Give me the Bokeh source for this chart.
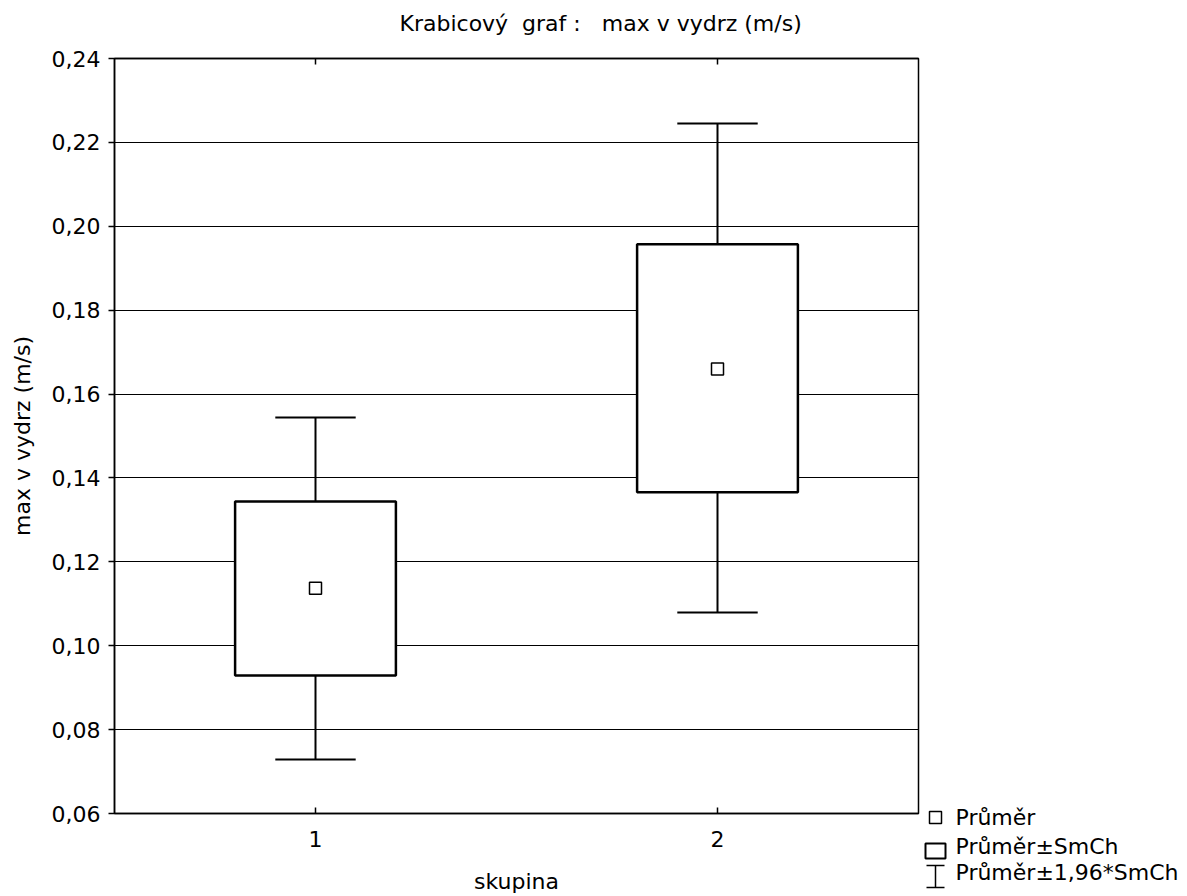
from bokeh.plotting import figure
from bokeh.models import Range1d, FixedTicker, CustomJSTickFormatter, LinearAxis
from bokeh.layouts import row, column
from bokeh.core.properties import value
from bokeh.embed import file_html
from bokeh.resources import INLINE

# ---- data ----
groups = [1, 2]
means = [0.1137, 0.1660]
box_low = [0.0929, 0.1366]
box_high = [0.1344, 0.1957]
whisk_low = [0.0729, 0.1079]
whisk_high = [0.1544, 0.2245]
y_ticks = [0.06, 0.08, 0.10, 0.12, 0.14, 0.16, 0.18, 0.20, 0.22, 0.24]
legend_labels = ["Průměr", "Průměr±SmCh", "Průměr±1,96*SmCh"]
title_text = "Krabicový \u00a0graf : \u00a0\u00a0max v vydrz (m/s)"
x_label = "skupina"
y_label = "max v vydrz (m/s)"

FONT = "DejaVu Sans"
FS = "22px"

W, H = 1187, 896
TITLE_H = 40

# ---- title strip (pixel coordinates) ----
tf = figure(width=W, height=TITLE_H, x_range=Range1d(0, W), y_range=Range1d(TITLE_H, 0),
            output_backend="svg", toolbar_location=None, min_border=0,
            x_axis_type=None, y_axis_type=None, outline_line_color=None)
tf.frame_align = False
tf.grid.visible = False
tf.text(x=[399], y=[23], text=[title_text], text_font=value(FONT), text_font_size=FS,
        text_baseline="middle", text_align="left", text_color="black")

# ---- main plot ----
p = figure(frame_width=804, frame_height=755, x_range=Range1d(0.5, 2.5), y_range=Range1d(0.06, 0.24),
           output_backend="svg", toolbar_location=None,
           min_border_left=114, min_border_right=5, min_border_top=58 - TITLE_H, min_border_bottom=83,
           x_axis_label=x_label, y_axis_label=y_label)
p.frame_align = False
p.outline_line_color = "black"
p.outline_line_width = 1.5
p.outline_line_alpha = 1

for ax in [p.xaxis[0], p.yaxis[0]]:
    ax.axis_line_color = "black"
    ax.axis_line_width = 1.5
    ax.major_tick_line_color = "black"
    ax.major_tick_line_width = 1.5
    ax.minor_tick_line_color = None
    ax.major_label_text_font = FONT
    ax.major_label_text_font_size = FS
    ax.major_label_text_color = "black"
    ax.axis_label_text_font = FONT
    ax.axis_label_text_font_size = FS
    ax.axis_label_text_font_style = "normal"
    ax.axis_label_text_color = "black"

p.xaxis.ticker = FixedTicker(ticks=groups)
p.xaxis.major_tick_in = 6
p.xaxis.major_tick_out = 0
p.xaxis.major_label_standoff = 17
p.xaxis.axis_label_standoff = 19

p.yaxis.ticker = FixedTicker(ticks=y_ticks)
p.yaxis.formatter = CustomJSTickFormatter(code="return tick.toFixed(2).replace('.', ',');")
p.yaxis.major_tick_in = 0
p.yaxis.major_tick_out = 6
p.yaxis.major_label_standoff = 8
p.yaxis.axis_label_standoff = 14

top_axis = LinearAxis(ticker=FixedTicker(ticks=groups), major_label_text_font_size="1px",
                      major_label_text_color=None,
                      major_label_standoff=0, major_tick_in=6, major_tick_out=0,
                      axis_line_color="black", axis_line_width=1.5,
                      major_tick_line_color="black", major_tick_line_width=1.5,
                      minor_tick_line_color=None)
p.add_layout(top_axis, "above")

p.xgrid.visible = False
p.ygrid.ticker = FixedTicker(ticks=y_ticks)
p.ygrid.grid_line_color = "black"
p.ygrid.grid_line_width = 1
p.ygrid.grid_line_alpha = 1

box_half = 0.2
cap_half = 0.1
cap_left = [g - cap_half for g in groups]
cap_right = [g + cap_half for g in groups]
box_left = [g - box_half for g in groups]
box_right = [g + box_half for g in groups]

# whiskers
p.segment(x0=groups, y0=whisk_low, x1=groups, y1=box_low, line_color="black", line_width=2)
p.segment(x0=groups, y0=box_high, x1=groups, y1=whisk_high, line_color="black", line_width=2)
p.segment(x0=cap_left, y0=whisk_low, x1=cap_right, y1=whisk_low, line_color="black", line_width=2)
p.segment(x0=cap_left, y0=whisk_high, x1=cap_right, y1=whisk_high, line_color="black", line_width=2)
# boxes
p.quad(left=box_left, right=box_right, bottom=box_low, top=box_high,
       fill_color="white", line_color="black", line_width=2.5)
# means
p.scatter(groups, means, marker="square", size=12, fill_color="white",
          line_color="black", line_width=1.5)

# ---- legend panel (pixel coordinates, page-aligned) ----
lg = figure(width=264, height=H - TITLE_H, x_range=Range1d(0, 264), y_range=Range1d(H, TITLE_H),
            output_backend="svg", toolbar_location=None, min_border=0,
            x_axis_type=None, y_axis_type=None, outline_line_color=None)
lg.frame_align = False
lg.grid.visible = False
leg_y = [817, 846, 872]
lg.scatter([12], [leg_y[0]], marker="square", size=12, fill_color="white",
           line_color="black", line_width=1.5)
lg.quad(left=[2], right=[22], top=[843], bottom=[858], fill_color="white",
        line_color="black", line_width=2)
lg.segment(x0=[12, 3, 3], y0=[865, 865, 887], x1=[12, 21, 21], y1=[887, 865, 887],
           line_color="black", line_width=1.5)
lg.text(x=[32, 32, 32], y=leg_y, text=legend_labels, text_font=value(FONT),
        text_font_size=FS, text_baseline="middle", text_align="left", text_color="black")

layout = column(tf, row(p, lg))
open("out.html", "w").write(file_html(layout, INLINE))
